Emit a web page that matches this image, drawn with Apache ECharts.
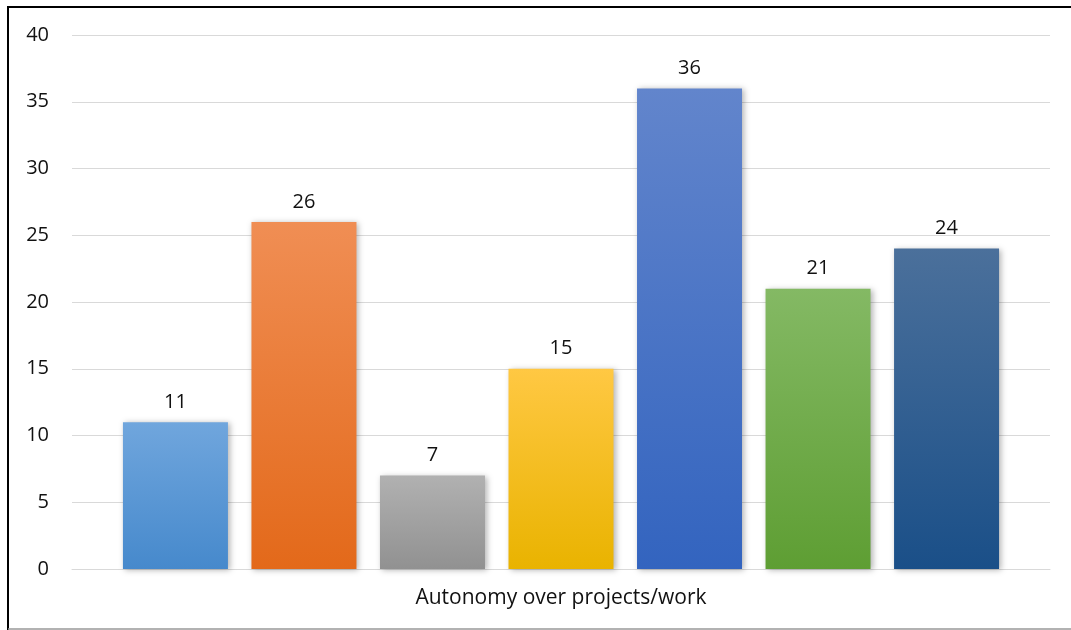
<!DOCTYPE html>
<html>
<head>
<meta charset="utf-8">
<script src="https://cdn.jsdelivr.net/npm/echarts@6/dist/echarts.min.js"></script>
<style>
html,body{margin:0;padding:0;background:#fff;}
#chart{width:1071px;height:630px;}
</style>
</head>
<body>
<div id="chart"></div>
<script>
const categories = ['Autonomy over projects/work'];
const seriesValues = [11, 26, 7, 15, 36, 21, 24];
const yTicks = [0, 5, 10, 15, 20, 25, 30, 35, 40];
const gradTop = ['#70a6dd', '#f08e54', '#b1b1b1', '#ffc843', '#6285cc', '#84b964', '#4b709b'];
const gradBottom = ['#4689cc', '#e3691a', '#919191', '#e9b300', '#3364bf', '#5e9e33', '#1a4f88'];

const font = '"Open Sans", Lato, sans-serif';
const chart = echarts.init(document.getElementById('chart'));
const series = seriesValues.map((v, i) => ({
  type: 'bar',
  name: 'S' + (i + 1),
  data: [v],
  barWidth: 105,
  barGap: '22.4%',
  itemStyle: {
    color: new echarts.graphic.LinearGradient(0, 0, 0, 1, [
      {offset: 0, color: gradTop[i]},
      {offset: 1, color: gradBottom[i]}
    ]),
    shadowBlur: 6,
    shadowOffsetX: 2,
    shadowOffsetY: 1,
    shadowColor: 'rgba(0,0,0,0.3)'
  },
  label: {
    show: true,
    position: 'top',
    distance: 10,
    fontFamily: font,
    fontSize: 20,
    color: '#111'
  }
}));

chart.setOption({
  animation: false,
  backgroundColor: '#fff',
  grid: {left: 72, right: 21, top: 35, bottom: 61},
  xAxis: {
    type: 'category',
    data: categories,
    axisLine: {show: true, lineStyle: {color: '#d9d9d9', width: 1}},
    axisTick: {show: false},
    axisLabel: {fontFamily: font, fontSize: 21, color: '#111', margin: 19}
  },
  yAxis: {
    type: 'value',
    min: yTicks[0],
    max: yTicks[yTicks.length - 1],
    interval: yTicks[1] - yTicks[0],
    axisLine: {show: false},
    axisTick: {show: false},
    splitLine: {lineStyle: {color: '#d9d9d9', width: 1}},
    axisLabel: {fontFamily: font, fontSize: 20, color: '#111', margin: 23}
  },
  series: series,
  graphic: [
    {type: 'line', shape: {x1: 8, y1: 7, x2: 1071, y2: 7}, style: {stroke: '#000', lineWidth: 2}},
    {type: 'line', shape: {x1: 8, y1: 6, x2: 8, y2: 630}, style: {stroke: '#000', lineWidth: 2}},
    {type: 'line', shape: {x1: 8, y1: 629, x2: 1071, y2: 629}, style: {stroke: '#999', lineWidth: 1.5}}
  ]
});
</script>
</body>
</html>
